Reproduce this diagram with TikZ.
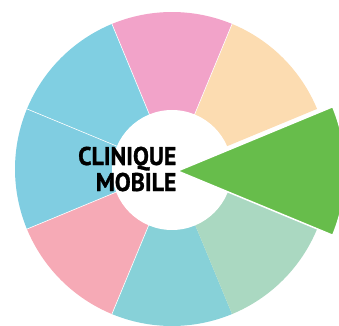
\documentclass[tikz,border=0pt]{standalone}
\usepackage{fontspec}
\setmainfont{PT Sans}[BoldFeatures={FakeBold=1.2}]
\usepackage{graphicx}
\definecolor{cPink}{HTML}{F2A3C9}
\definecolor{cPeach}{HTML}{FCDCB1}
\definecolor{cGreen}{HTML}{67BD4B}
\definecolor{cMint}{HTML}{AAD8C1}
\definecolor{cCyan}{HTML}{87D1D8}
\definecolor{cRose}{HTML}{F6AAB6}
\definecolor{cBlueA}{HTML}{80CDE1}
\definecolor{cBlueB}{HTML}{80CFE2}
\tikzset{
  lbl/.style={anchor=base east, inner sep=0pt, font=\bfseries\fontsize{25.7}{26}\selectfont, text=black},
  sep/.style={draw=white, line width=0.6bp}
}
\begin{document}
\begin{tikzpicture}[x=1bp,y=1bp]
\useasboundingbox (0,0) rectangle (339,326);
\clip (0,0) rectangle (339,326);
\coordinate (c) at (172,157);
\foreach \a/\col in {22.5/cPeach, 67.5/cPink, 112.5/cBlueB, 157.5/cBlueA, 202.5/cRose, 247.5/cCyan, 292.5/cMint}{
  \fill[\col] (c) -- ++(\a:157) arc[start angle=\a, end angle=\a+45, radius=157] -- cycle;
}
\foreach \a in {67.5,112.5,157.5,202.5,247.5}{
  \draw[sep] (c) -- ++(\a:157);
}
\fill[white] (172,156) circle[radius=60];
\coordinate (g) at (177.5,155);
\filldraw[fill=cGreen, draw=white, line width=1.5bp, line join=round] (g) -- ++(22.5:168) arc[start angle=22.5, end angle=-22.5, radius=168] -- cycle;
\node[lbl] (t1) at (176.5,161) {\scalebox{0.93}[1]{CLINIQUE}};
\node[lbl] (t2) at (176.5,135) {\scalebox{0.93}[1]{MOBILE}};
\end{tikzpicture}
\end{document}
